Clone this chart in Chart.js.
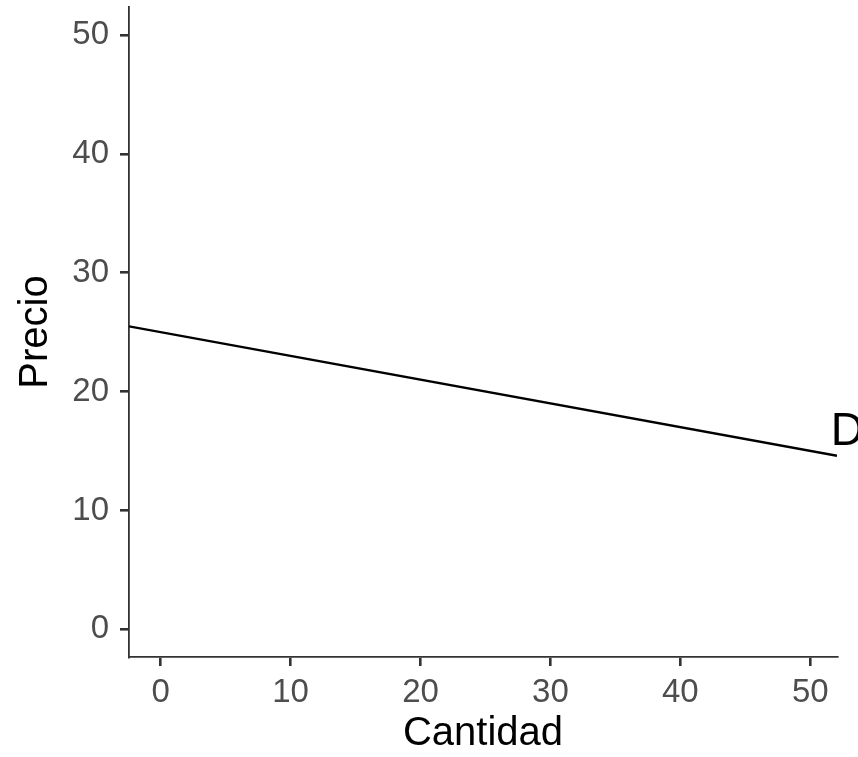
<!DOCTYPE html>
<html>
<head>
<meta charset="utf-8">
<title>Demanda</title>
<script src="https://cdn.jsdelivr.net/npm/chart.js@4.4.1/dist/chart.umd.min.js"></script>
<style>
  html, body { margin: 0; padding: 0; background: #ffffff; }
  canvas { display: block; }
</style>
</head>
<body>
<canvas id="chart" width="858" height="757"></canvas>
<script>
// ---- data ----
var cantidad = [-2.44, 52.06];      // line runs edge to edge of the panel
var precio = [25.49, 14.6];
var xTicks = [0, 10, 20, 30, 40, 50];
var yTicks = [0, 10, 20, 30, 40, 50];
var xLimits = [-2.44, 52.06];
var yLimits = [-2.33, 52.36];
var curveLabel = { text: 'D', x: 52.85, y: 16.55 };

var FONT = "'Liberation Sans', Arial, sans-serif";
var AXIS = '#333333';
var TICK_TEXT = '#4D4D4D';

// draws the "D" next to the end of the curve
var curveLabelPlugin = {
  id: 'curveLabel',
  afterDatasetsDraw: function(chart) {
    var ctx = chart.ctx;
    var px = chart.scales.x.getPixelForValue(curveLabel.x);
    var py = chart.scales.y.getPixelForValue(curveLabel.y);
    ctx.save();
    ctx.font = '46px ' + FONT;
    ctx.fillStyle = '#000000';
    ctx.textAlign = 'center';
    ctx.textBaseline = 'middle';
    ctx.fillText(curveLabel.text, px, py);
    ctx.restore();
  }
};

function axisOptions(limits, ticks, title, fixSize) {
  return {
    type: 'linear',
    min: limits[0],
    max: limits[1],
    afterBuildTicks: function(scale) {
      scale.ticks = ticks.map(v => ({ value: v }));
    },
    afterFit: fixSize,
    border: { display: true, color: AXIS, width: 1.8 },
    grid: {
      display: true,
      drawOnChartArea: false,
      drawTicks: true,
      tickLength: 9,
      color: AXIS,
      lineWidth: 2.6
    },
    ticks: {
      color: TICK_TEXT,
      font: { family: FONT, size: 33, lineHeight: 1 },
      callback: v => String(v)
    },
    title: {
      display: true,
      text: title,
      color: '#000000',
      font: { family: FONT, size: 40, lineHeight: 1 }
    }
  };
}

// fixed axis boxes so the panel sits where it does in the picture
var xAxis = axisOptions(xLimits, xTicks, 'Cantidad', s => {
  s.height = 100;
  s.paddingLeft = 0;
  s.paddingRight = 0;
});
xAxis.ticks.padding = 10;
xAxis.ticks.maxRotation = 0;
xAxis.title.padding = { top: 0, bottom: 3 };

var yAxis = axisOptions(yLimits, yTicks, 'Precio', s => {
  s.width = 129;
  s.paddingTop = 0;
  s.paddingBottom = 0;
});
yAxis.ticks.padding = 11;
yAxis.title.padding = { top: 16, bottom: 0 };

new Chart(document.getElementById('chart'), {
  type: 'line',
  data: {
    datasets: [{
      label: 'D',
      data: cantidad.map((q, i) => ({ x: q, y: precio[i] })),
      borderColor: '#000000',
      borderWidth: 2.3,
      pointRadius: 0,
      tension: 0,
      fill: false
    }]
  },
  options: {
    responsive: false,
    devicePixelRatio: 1,
    animation: false,
    layout: { padding: { top: 7, right: 21, left: 0, bottom: 0 } },
    plugins: {
      legend: { display: false },
      tooltip: { enabled: false }
    },
    scales: { x: xAxis, y: yAxis }
  },
  plugins: [curveLabelPlugin]
});
</script>
</body>
</html>
